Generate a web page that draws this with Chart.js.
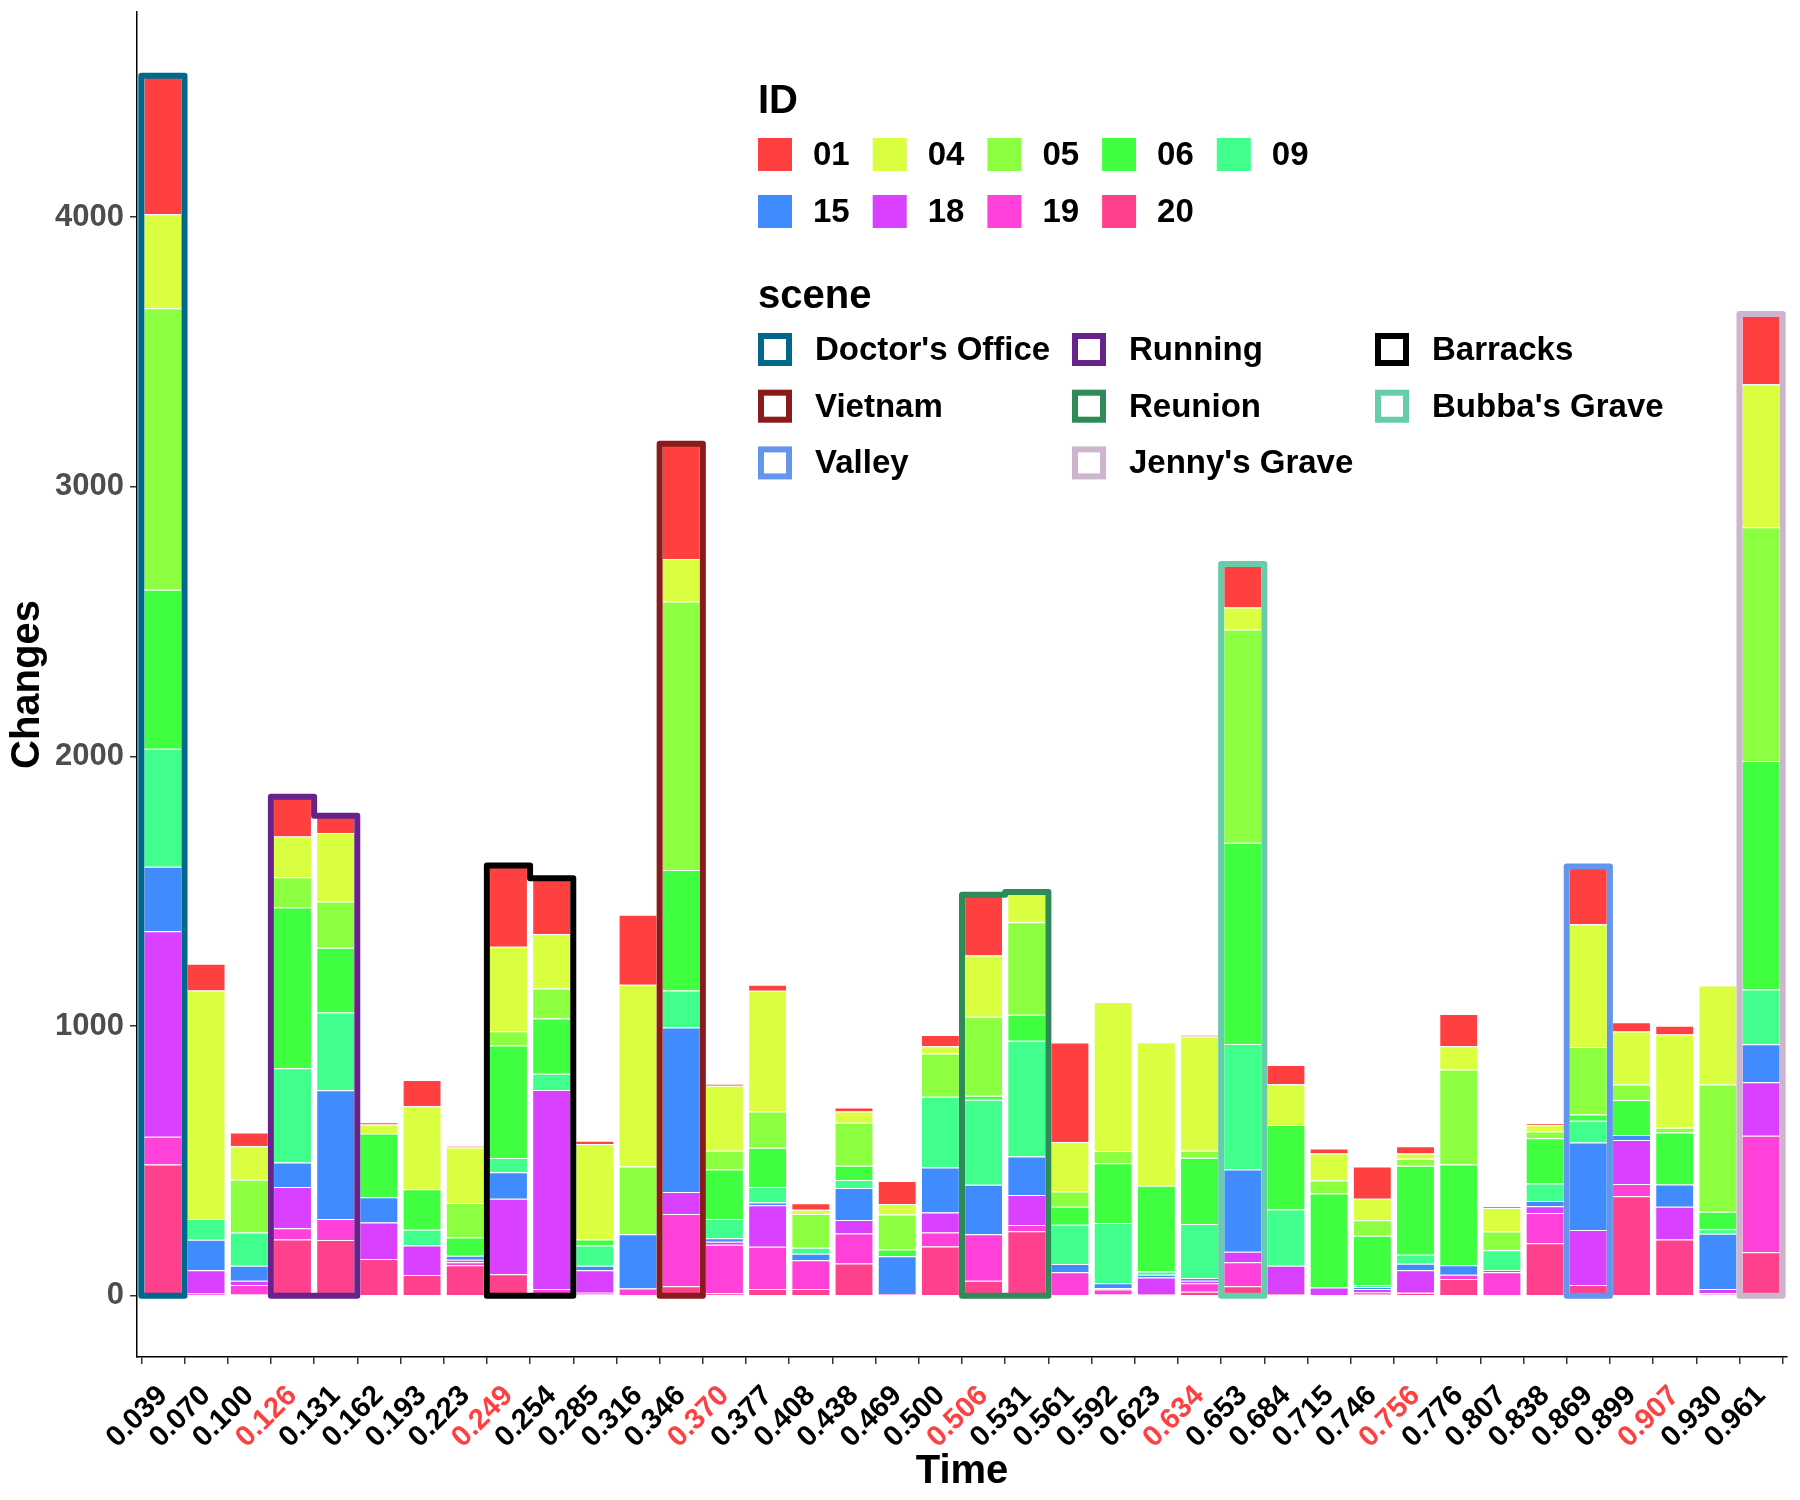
<!DOCTYPE html>
<html>
<head>
<meta charset="utf-8">
<script src="https://cdn.jsdelivr.net/npm/chart.js@4.4.1/dist/chart.umd.min.js"></script>
<style>
  html, body { margin: 0; background: #fff; }
  #wrap { width: 1800px; height: 1500px; }
</style>
</head>
<body>
<div id="wrap"><canvas id="chart" width="1800" height="1500"></canvas></div>
<script>
// --- Data ---
const times = ['0.039','0.070','0.100','0.126','0.131','0.162','0.193','0.223','0.249','0.254',
  '0.285','0.316','0.346','0.370','0.377','0.408','0.438','0.469','0.500','0.506',
  '0.531','0.561','0.592','0.623','0.634','0.653','0.684','0.715','0.746','0.756',
  '0.776','0.807','0.838','0.869','0.899','0.907','0.930','0.961'];
const redTimes = ['0.126','0.249','0.370','0.506','0.634','0.756','0.907'];
const yTicks = [0, 1000, 2000, 3000, 4000];

// one array per ID (stack order: 20 at bottom ... 01 on top)
const id20 = [487,3,5,209,207,136,77,113,80,10,5,0,35,9,25,25,120,0,183,56,239,0,5,3,15,35,6,0,6,10,62,0,195,40,369,209,5,161];
const id19 = [103,5,35,41,78,0,0,11,0,15,6,27,268,180,157,107,111,6,52,172,23,87,18,3,31,89,0,0,6,4,16,87,112,0,45,0,4,432];
const id18 = [762,87,16,153,0,136,109,10,280,738,84,0,82,11,154,0,50,0,74,0,112,0,5,62,10,39,105,31,13,81,0,0,25,204,164,121,16,199];
const id15 = [239,113,55,91,477,93,0,14,98,0,16,201,610,13,10,24,119,141,167,184,142,31,18,10,10,305,0,0,8,24,35,9,19,324,18,83,205,141];
const id09 = [437,77,124,350,288,0,59,0,53,60,75,0,137,72,57,22,29,0,262,315,430,145,224,12,200,466,209,0,7,33,0,73,65,81,0,0,17,203];
const id06 = [590,0,0,596,240,237,150,68,417,205,23,0,447,183,146,0,53,25,0,15,96,67,221,318,246,746,313,348,183,330,374,0,168,23,130,192,65,847];
const id05 = [1044,0,195,112,172,0,0,128,53,111,0,251,995,70,134,125,160,129,160,293,343,57,46,0,26,790,0,48,57,26,352,69,25,250,57,18,471,867];
const id04 = [348,847,124,151,254,33,308,206,313,202,354,674,158,241,448,16,41,39,27,227,112,183,552,532,423,82,151,101,80,20,86,87,23,456,197,346,367,530];
const id01 = [514,99,51,147,64,8,97,5,301,207,12,260,427,6,22,24,15,86,42,225,0,369,0,0,6,161,72,18,119,26,120,7,8,214,34,32,0,260];

// scenes: which bars (by index) each outline wraps
const sceneNames = ["Doctor's Office", 'Running', 'Barracks', 'Vietnam', 'Reunion', "Bubba's Grave", 'Valley', "Jenny's Grave"];
const sceneBars = [[0], [3, 4], [8, 9], [12], [19, 20], [25], [33], [37]];
const sceneColors = ['#00688B', '#68228B', '#000000', '#8B1A1A', '#2E8B57', '#66CDAA', '#6495ED', '#CDB5CD'];

// --- Series setup ---
const series = [
  { label: '20', color: '#FF408C', values: id20 },
  { label: '19', color: '#FF40D9', values: id19 },
  { label: '18', color: '#D940FF', values: id18 },
  { label: '15', color: '#408CFF', values: id15 },
  { label: '09', color: '#40FF8C', values: id09 },
  { label: '06', color: '#40FF40', values: id06 },
  { label: '05', color: '#8CFF40', values: id05 },
  { label: '04', color: '#D9FF40', values: id04 },
  { label: '01', color: '#FF4040', values: id01 }
];

const FONT = "'Liberation Sans', Arial, Helvetica, sans-serif";
Chart.defaults.font.family = FONT;

// --- Scene outlines (drawn over the stacked bars) ---
const sceneOutlines = {
  id: 'sceneOutlines',
  afterDatasetsDraw(chart) {
    const { ctx, scales: { x, y } } = chart;
    const totals = times.map((_, i) => series.reduce((s, d) => s + d.values[i], 0));
    const y0 = y.getPixelForValue(0);
    ctx.save();
    ctx.lineWidth = 6;
    ctx.lineJoin = 'round';
    sceneBars.forEach((bars, k) => {
      ctx.beginPath();
      ctx.moveTo(x.getPixelForValue(bars[0] - 0.5), y0);
      bars.forEach(b => {
        const top = y.getPixelForValue(totals[b]);
        ctx.lineTo(x.getPixelForValue(b - 0.5), top);
        ctx.lineTo(x.getPixelForValue(b + 0.5), top);
      });
      ctx.lineTo(x.getPixelForValue(bars[bars.length - 1] + 0.5), y0);
      ctx.closePath();
      ctx.strokeStyle = sceneColors[k];
      ctx.stroke();
    });
    ctx.restore();
  }
};

// --- Legends (ID fill + scene outline) ---
const legends = {
  id: 'legends',
  afterDraw(chart) {
    const ctx = chart.ctx;
    ctx.save();
    ctx.fillStyle = '#000';
    ctx.textBaseline = 'alphabetic';
    ctx.font = 'bold 40px ' + FONT;
    ctx.fillText('ID', 758, 113);
    ctx.fillText('scene', 758, 308);

    // ID keys: 5 per row, order 01 04 05 06 09 / 15 18 19 20
    const idOrder = series.slice().reverse();
    ctx.font = 'bold 33px ' + FONT;
    ctx.textBaseline = 'middle';
    idOrder.forEach((s, i) => {
      const col = i % 5, row = Math.floor(i / 5);
      const x = 758 + col * 114.7, y = 138 + row * 57;
      ctx.fillStyle = s.color;
      ctx.fillRect(x, y, 34, 33);
      ctx.fillStyle = '#000';
      ctx.fillText(s.label, x + 55, y + 18);
    });

    // scene keys, three columns as in the reference
    const colX = [758, 1072, 1375];
    sceneNames.forEach((name, k) => {
      const col = k % 3, row = Math.floor(k / 3);
      const x = colX[col], y = 333 + row * 56.7;
      ctx.lineWidth = 6;
      ctx.strokeStyle = sceneColors[k];
      ctx.fillStyle = '#fff';
      ctx.fillRect(x, y, 34, 33);
      ctx.strokeRect(x + 3, y + 3, 28, 27);
      ctx.fillStyle = '#000';
      ctx.fillText(name, x + 57, y + 18);
    });
    ctx.restore();
  }
};

const datasets = series.map(s => ({
  label: s.label,
  data: s.values.map((v, i) => ({ x: i, y: v })),
  backgroundColor: s.color,
  borderColor: '#ffffff',
  borderWidth: 1,
  barPercentage: 0.9,
  categoryPercentage: 1.0
}));

new Chart(document.getElementById('chart').getContext('2d'), {
  type: 'bar',
  data: { datasets },
  options: {
    responsive: false,
    animation: false,
    devicePixelRatio: 1,
    layout: { padding: { top: 12, right: 13, bottom: 0, left: 0 } },
    plugins: {
      legend: { display: false },
      tooltip: { enabled: false }
    },
    scales: {
      x: {
        type: 'linear',
        stacked: true,
        min: -0.6,
        max: times.length - 1 + 0.6,
        offset: false,
        afterBuildTicks: axis => { axis.ticks = times.map((_, i) => ({ value: i })); },
        afterFit: scale => {
          scale.height = 143;
          scale.paddingLeft = 0;
          scale.paddingRight = 0;
        },
        grid: { drawOnChartArea: false, drawTicks: true, tickLength: 7, color: '#333333', lineWidth: 1.5 },
        border: { display: true, color: '#000000', width: 1.5 },
        ticks: {
          autoSkip: false,
          minRotation: 45,
          maxRotation: 45,
          padding: 15,
          font: { size: 29, weight: 'bold' },
          color: c => redTimes.includes(times[c.tick.value]) ? '#FF4040' : '#000000',
          callback: v => times[v]
        },
        title: {
          display: true,
          text: 'Time',
          color: '#000000',
          font: { size: 40, weight: 'bold' },
          padding: { top: 0, bottom: 4 }
        }
      },
      y: {
        stacked: true,
        min: -227,
        max: 4760,
        afterBuildTicks: axis => { axis.ticks = yTicks.map(v => ({ value: v })); },
        afterFit: scale => {
          scale.width = 137;
          scale.paddingTop = 0;
          scale.paddingBottom = 0;
        },
        grid: { drawOnChartArea: false, drawTicks: true, tickLength: 7, color: '#333333', lineWidth: 1.5 },
        border: { display: true, color: '#000000', width: 1.5 },
        ticks: {
          padding: 6,
          font: { size: 31, weight: 'bold' },
          color: '#4D4D4D',
          callback: v => String(v)
        },
        title: {
          display: true,
          text: 'Changes',
          color: '#000000',
          font: { size: 40, weight: 'bold' },
          padding: { top: 4, bottom: 0 }
        }
      }
    }
  },
  plugins: [sceneOutlines, legends]
});
</script>
</body>
</html>
